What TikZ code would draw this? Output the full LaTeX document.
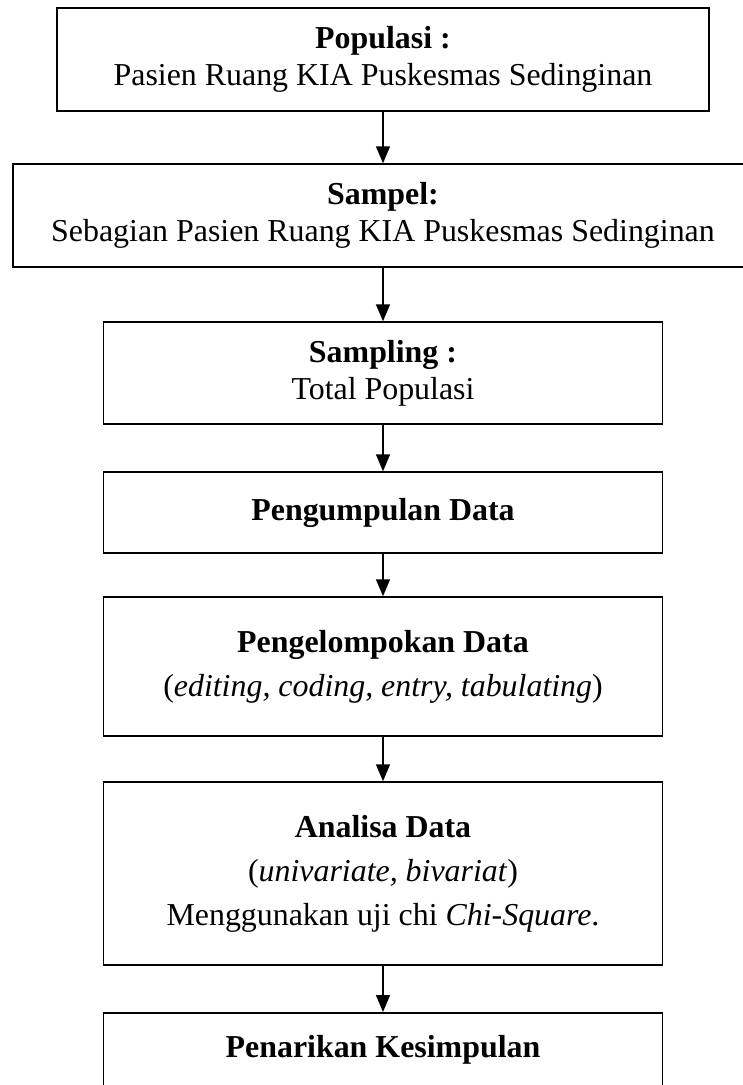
\documentclass[tikz,border=0pt]{standalone}
\usepackage{fontspec}
\setmainfont{Liberation Serif}
\usetikzlibrary{arrows.meta}
\tikzset{
  kotak/.style={draw, line width=1.5pt, align=center, inner sep=0pt, minimum width=559pt, font=\fontsize{31.9}{37}\selectfont},
  panah/.style={line width=1.6pt, -{Triangle[length=17pt,width=14pt]}}
}

\begin{document}
\begin{tikzpicture}[x=1pt,y=-1pt]
	%%%%% START %%%%%
	\useasboundingbox (0,0) rectangle (743,1085);
	
	\node[kotak, minimum width=652pt, minimum height=103pt] (populasi) at (383, 59.5) {\textbf{Populasi :}\\Pasien Ruang KIA Puskesmas Sedinginan};
	\node[kotak, minimum width=740pt, minimum height=103pt] (sampel) at (383, 215.5) {\textbf{Sampel:}\\Sebagian Pasien Ruang KIA Puskesmas Sedinginan};
	\node[kotak, minimum height=102pt] (sampling) at (383, 373) {\textbf{Sampling :}\\Total Populasi};
	\node[kotak, minimum height=81pt] (kumpul) at (383, 512.5) {\textbf{Pengumpulan Data}};
	\node[kotak, minimum height=139pt] (kelompok) at (383, 666.5) {\textbf{Pengelompokan Data}\\[7pt](\textit{editing, coding, entry, tabulating})};
	\node[kotak, minimum height=183pt] (analisa) at (383, 873.5) {\textbf{Analisa Data}\\[7pt](\textit{univariate, bivariat})\\[7pt]Menggunakan uji chi \textit{Chi-Square}.};
	\node[kotak, anchor=north, text height=45pt, text depth=50pt] (simpulan) at (383, 1012) {\textbf{Penarikan Kesimpulan}};
	
	\draw[panah] (populasi) -- (sampel);
	\draw[panah] (sampel) -- (sampling);
	\draw[panah] (sampling) -- (kumpul);
	\draw[panah] (kumpul) -- (kelompok);
	\draw[panah] (kelompok) -- (analisa);
	\draw[panah] (analisa) -- (simpulan);
	
	%%%%% END %%%%%
\end{tikzpicture}
\end{document}
